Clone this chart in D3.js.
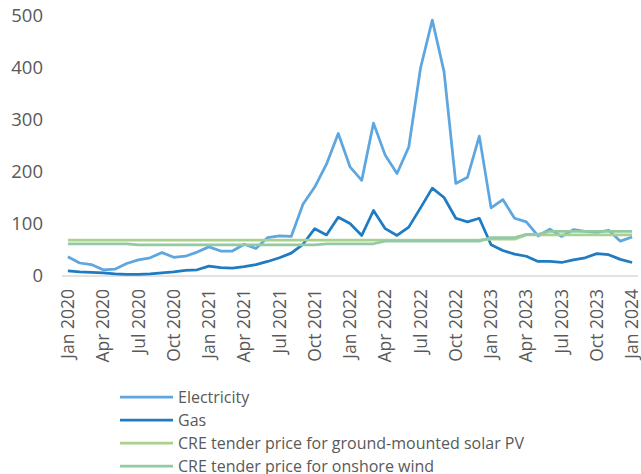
<!DOCTYPE html>
<html>
<head>
<meta charset="utf-8">
<script src="https://cdn.jsdelivr.net/npm/d3@7"></script>
<style>
  body { margin: 0; background: #fff; }
  text { font-family: "Open Sans", sans-serif; fill: #595959; }
</style>
</head>
<body>
<div id="chart"></div>
<script>
// monthly categories, Jan 2020 .. Jan 2024
var months = d3.timeMonths(new Date(2020, 0, 1), new Date(2024, 1, 1));
var tickLabels = ["Jan 2020", "Apr 2020", "Jul 2020", "Oct 2020",
                  "Jan 2021", "Apr 2021", "Jul 2021", "Oct 2021",
                  "Jan 2022", "Apr 2022", "Jul 2022", "Oct 2022",
                  "Jan 2023", "Apr 2023", "Jul 2023", "Oct 2023", "Jan 2024"];
var yTicks = [0, 100, 200, 300, 400, 500];

var electricity = [37, 25, 22, 12, 13, 24, 31, 35, 45, 36, 38, 46,
                   56, 48, 48, 61, 53, 74, 77, 76, 138, 171, 215, 274,
                   210, 184, 294, 232, 197, 248, 400, 492, 393, 178, 190, 269,
                   131, 147, 111, 104, 77, 90, 76, 89, 86, 84, 88, 67, 75];
var gas = [10, 8, 7, 6, 4, 3, 3, 4, 6, 8, 11, 12,
           19, 16, 15, 18, 22, 28, 35, 44, 61, 91, 79, 113,
           101, 78, 126, 91, 78, 94, 131, 169, 151, 111, 104, 111,
           60, 49, 42, 38, 28, 28, 26, 31, 35, 43, 41, 32, 26];
var solarPV = [69, 69, 69, 69, 69, 69, 69, 69, 69, 69, 69, 69,
               69, 69, 69, 69, 69, 69, 69, 69, 69, 69, 69, 69,
               69, 69, 69, 69, 69, 69, 69, 69, 69, 69, 69, 69,
               71, 71, 71, 79, 79, 79, 79, 79, 79, 79, 79, 79, 79];
var onshoreWind = [62, 62, 62, 62, 62, 62, 60, 60, 60, 60, 60, 60,
                   60, 60, 60, 60, 60, 60, 60, 60, 60, 60, 62, 62,
                   62, 62, 62, 67, 67, 67, 67, 67, 67, 67, 67, 67,
                   74, 74, 74, 80, 80, 86, 86, 86, 86, 86, 86, 86, 86];

var series = [
  {name: "Electricity", values: electricity, color: "#5ea6df"},
  {name: "Gas", values: gas, color: "#1f7cc2"},
  {name: "CRE tender price for ground-mounted solar PV", values: solarPV, color: "#a9d18e"},
  {name: "CRE tender price for onshore wind", values: onshoreWind, color: "#93caa3"}
];

var width = 641, height = 474;
var svg = d3.select("#chart").append("svg")
  .attr("width", width).attr("height", height);

var x = d3.scaleBand().domain(d3.range(months.length)).range([62, 638]);
var y = d3.scaleLinear().domain([0, 500]).range([276, 16]);
var fmt = d3.timeFormat("%b %Y");

// y labels
svg.append("g").selectAll("text").data(yTicks).enter().append("text")
  .attr("x", 43).attr("y", function(d) { return y(d); })
  .attr("dy", "0.35em").attr("text-anchor", "end")
  .style("font-size", "18.5px")
  .text(function(d) { return d; });

// baseline
svg.append("line")
  .attr("x1", 62).attr("x2", 638).attr("y1", y(0)).attr("y2", y(0))
  .attr("stroke", "#d9d9d9").attr("stroke-width", 1.5);

// x labels, every 3 months
var labelIdx = months.map(function(m, i) { return i; })
  .filter(function(i) { return tickLabels.indexOf(fmt(months[i])) >= 0; });
svg.append("g").selectAll("text").data(labelIdx).enter().append("text")
  .attr("transform", function(i) {
    return "translate(" + (x(i) + x.bandwidth() / 2) + ",289) rotate(-90)";
  })
  .attr("dy", "0.35em").attr("text-anchor", "end")
  .style("font-size", "17.5px")
  .text(function(i) { return fmt(months[i]); });

var line = d3.line()
  .x(function(d, i) { return x(i) + x.bandwidth() / 2; })
  .y(function(d) { return y(d); });

series.forEach(function(s) {
  svg.append("path")
    .attr("d", line(s.values))
    .attr("fill", "none")
    .attr("stroke", s.color)
    .attr("stroke-width", 2.75)
    .attr("stroke-linejoin", "round");
});

// legend
var legend = svg.append("g").selectAll("g").data(series).enter().append("g")
  .attr("transform", function(d, i) { return "translate(120," + (397 + i * 23) + ")"; });
legend.append("line")
  .attr("x1", 0).attr("x2", 53)
  .attr("stroke", function(d) { return d.color; })
  .attr("stroke-width", 2.75);
legend.append("text")
  .attr("x", 58).attr("dy", "0.35em")
  .style("font-size", "16px")
  .text(function(d) { return d.name; });
</script>
</body>
</html>
